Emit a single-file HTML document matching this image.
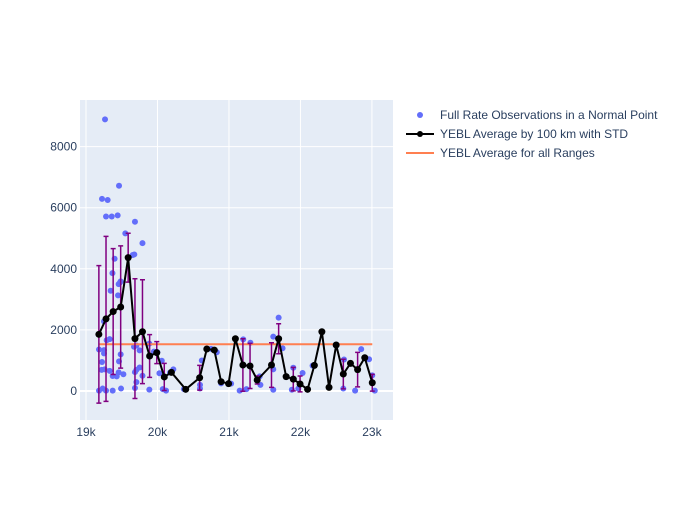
<!DOCTYPE html>
<html><head><meta charset="utf-8"><style>
body{margin:0;background:#fff;font-family:"Liberation Sans",sans-serif}
</style></head><body>
<svg id="chart" width="700" height="500" xmlns="http://www.w3.org/2000/svg">
<rect x="0" y="0" width="700" height="500" fill="#fff"/>
<rect x="80" y="100" width="313" height="320" fill="#e5ecf6"/>
<g id="grid"></g><g id="marks"></g><g id="axes"></g>
<g font-size="12" fill="#2a3f5f">
<circle cx="420" cy="115" r="3" fill="#636efa"/>
<text x="440" y="119">Full Rate Observations in a Normal Point</text>
<line x1="406" y1="134" x2="434" y2="134" stroke="#000" stroke-width="2"/>
<circle cx="420" cy="134" r="3" fill="#000"/>
<text x="440" y="138">YEBL Average by 100 km with STD</text>
<line x1="406" y1="153" x2="434" y2="153" stroke="#ff7f50" stroke-width="2"/>
<text x="440" y="157">YEBL Average for all Ranges</text>
</g>
</svg>
<script>
const scatterX=[19266,19224,19303,19462,19280,19360,19443,19685,19790,19550,19400,19654,19676,19370,19457,19476,19448,19345,19485,19252,19331,19289,19182,19252,19252,19485,19224,19462,19219,19331,19261,19457,19523,19373,19430,19182,19233,19280,19373,19490,19672,19705,19750,19750,19705,19685,19790,19705,19685,19886,19950,19998,20060,20027,19886,20120,20074,20176,20222,20370,20620,20595,20595,20750,20830,20890,21030,21090,21200,21150,21245,21300,21430,21440,21620,21695,21750,21620,21620,21900,21880,22030,21970,22170,22300,22400,22495,22610,22600,22700,22765,22850,22960,23005,23040];
const scatterY=[8890,6290,6250,6720,5710,5710,5750,5540,4840,5160,4330,4450,4470,3860,3500,3550,3130,3280,3590,2280,1700,1660,1360,1340,1230,1200,950,970,690,660,710,610,550,490,480,14,80,14,14,80,1450,1490,1330,770,690,620,500,290,100,1550,1290,1270,990,580,45,14,60,600,710,60,1000,200,80,1380,1270,250,240,1710,1690,14,60,1580,480,200,1780,2400,1400,710,40,760,40,590,80,830,1940,120,1500,1030,80,900,14,1370,1040,510,14];
const avgX=[19180,19280,19380,19485,19590,19685,19790,19890,19990,20095,20195,20395,20590,20690,20795,20890,20995,21090,21195,21295,21395,21595,21695,21800,21900,21995,22100,22195,22300,22400,22500,22600,22700,22800,22900,23005];
const avgY=[1855,2360,2600,2750,4365,1715,1940,1145,1255,460,610,55,435,1375,1340,305,240,1710,850,820,360,850,1710,470,390,230,55,840,1940,120,1505,555,905,700,1090,270];
const avgStd=[2250,2700,2060,2000,800,1960,1700,700,360,445,60,20,405,40,40,30,30,40,860,740,130,730,490,40,385,260,20,30,30,30,40,485,60,565,40,275];
const overallAvg=[1530];
const xTicks=[19000,20000,21000,22000,23000];
const xTickLabels=["19k","20k","21k","22k","23k"];
const yTicks=[0,2000,4000,6000,8000];
const yTickLabels=["0","2000","4000","6000","8000"];
const X0=80,X1=393,Y0=100,Y1=420,xmin=18916,xmax=23295,ymin=-949,ymax=9525;
const sx=v=>X0+(v-xmin)/(xmax-xmin)*(X1-X0);
const sy=v=>Y1-(v-ymin)/(ymax-ymin)*(Y1-Y0);
const NS="http://www.w3.org/2000/svg";
function mk(tag,attrs,parent){const e=document.createElementNS(NS,tag);for(const k in attrs)e.setAttribute(k,attrs[k]);parent.appendChild(e);return e;}
const grid=document.getElementById('grid'),marks=document.getElementById('marks'),axes=document.getElementById('axes');
xTicks.forEach((t,i)=>{const l=mk('line',{x1:sx(t),x2:sx(t),y1:Y0,y2:Y1,stroke:'#fff','stroke-width':1},grid);


const tx=mk('text',{x:sx(t),y:436,'text-anchor':'middle','font-size':12,fill:'#2a3f5f'},axes);tx.textContent=xTickLabels[i];

});
yTicks.forEach((t,i)=>{const l=mk('line',{x1:X0,x2:X1,y1:sy(t),y2:sy(t),stroke:'#fff','stroke-width':t===0?2:1},grid);


const tx=mk('text',{x:77,y:sy(t)+4,'text-anchor':'end','font-size':12,fill:'#2a3f5f'},axes);tx.textContent=yTickLabels[i];

});
scatterX.forEach((x,i)=>{const c=mk('circle',{cx:sx(x),cy:sy(scatterY[i]),r:3,fill:'#636efa'},marks);

});
const ol=mk('line',{x1:sx(avgX[0]),x2:sx(avgX[avgX.length-1]),y1:sy(overallAvg[0]),y2:sy(overallAvg[0]),stroke:'#ff7f50','stroke-width':2},marks);


avgX.forEach((x,i)=>{const px=sx(x),t=sy(avgY[i]+avgStd[i]),b=sy(avgY[i]-avgStd[i]);
const g=mk('path',{d:`M${px},${t}V${b}M${px-2.5},${t}H${px+2.5}M${px-2.5},${b}H${px+2.5}`,stroke:'#800080','stroke-width':1.5,fill:'none'},marks);

});
const pl=mk('polyline',{points:avgX.map((x,i)=>sx(x)+','+sy(avgY[i])).join(' '),fill:'none',stroke:'#000','stroke-width':2},marks);


avgX.forEach((x,i)=>{const c=mk('circle',{cx:sx(x),cy:sy(avgY[i]),r:3.5,fill:'#000'},marks);

});
</script>
</body></html>
